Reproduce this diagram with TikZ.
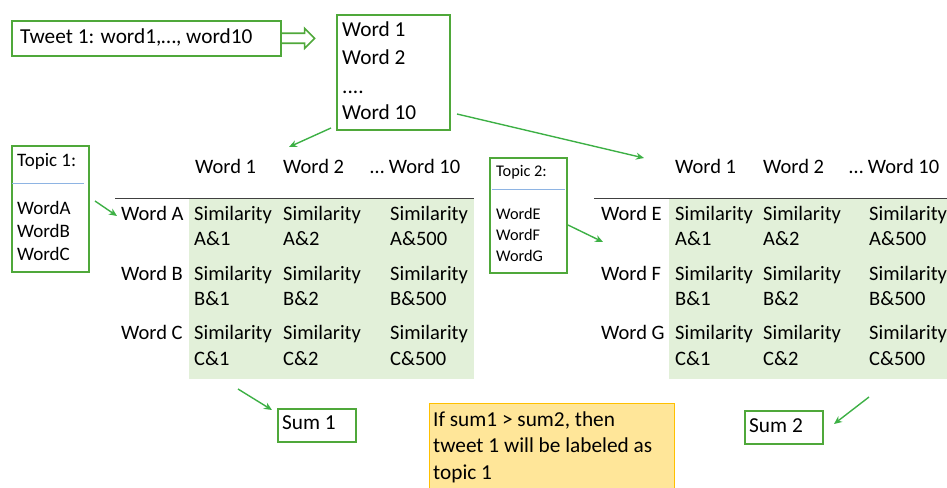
\documentclass[tikz,border=0pt]{standalone}
\usepackage{fontspec}
\setmainfont{Carlito}
\usetikzlibrary{arrows.meta,calc}
\definecolor{gbord}{HTML}{4FA83A}
\definecolor{garr}{HTML}{3DB045}
\definecolor{gfill}{HTML}{E2F0D9}
\definecolor{yfill}{HTML}{FFE699}
\definecolor{ybord}{HTML}{FFC000}
\definecolor{bline}{HTML}{8EB4E3}
\definecolor{hline}{HTML}{404040}
\begin{document}
\begin{tikzpicture}[x=1pt,y=-1pt,
  gbox/.style={draw=gbord, line width=1.6pt, inner sep=0pt, anchor=north west},
  tx/.style={anchor=base west, inner sep=0pt, font=\fontsize{20.5}{24}\selectfont},
  tb/.style={anchor=base west, inner sep=0pt, font=\fontsize{21.3}{25}\selectfont},
  tA/.style={anchor=base west, inner sep=0pt, font=\fontsize{19}{23}\selectfont},
  tB/.style={anchor=base west, inner sep=0pt, font=\fontsize{16.3}{20}\selectfont},
  garrow/.style={draw=garr, line width=1.4pt, -{Stealth[length=8pt,width=7pt]}}]
\useasboundingbox (0,0) rectangle (947,487);

% tweet box and word list
\node[gbox, minimum width=269pt, minimum height=35pt] (tw) at (11,20) {};
\node[tb] (twt) at (20,44) {Tweet 1: word1,…, word10};
\draw[gbord, line width=1.6pt] (tw.east) ++(0,-5) -- ++(23,0) -- ++(0,-5) -- ++(10,10) -- ++(-10,10) -- ++(0,-5) -- ++(-23,0);
\node[gbox, minimum width=113pt, minimum height=115pt] (wl) at (336,14) {};
\node[tb] (wl1) at (342,36.7) {Word 1};
\node[tb] (wl2) at (342,64.3) {Word 2};
\node[tb] (wl3) at (342,93.3) {....};
\node[tb] (wl4) at (342,119.3) {Word 10};

% topic 1 box
\node[gbox, minimum width=77pt, minimum height=126pt] (tp1) at (11,145) {};
\node[tA] (tp1h) at (17,166) {Topic 1:};
\draw[bline, line width=0.9pt] (12,183.5) -- (84,183.5);
\node[tA] (tp1a) at (17,214) {WordA};
\node[tA] (tp1b) at (17,237) {WordB};
\node[tA] (tp1c) at (17,260.5) {WordC};

% table 1
\fill[gfill] (189,199) rectangle (474,379);
\draw[hline, line width=1.8pt] (115,198.5) -- (474,198.5);
\node[tx] (h11) at (195,173.3) {Word 1};
\node[tx] (h12) at (283,173.3) {Word 2};
\node[tx] (h13) at (370,173.3) {… Word 10};
\node[tx] (ra) at (121,220) {Word A};
\node[tx] (rb) at (121,280) {Word B};
\node[tx] (rc) at (121,339.5) {Word C};
\node[tx] (a1) at (194,220) {Similarity};
\node[tx] (a1b) at (194,245) {A\&1};
\node[tx] (a2) at (283,220) {Similarity};
\node[tx] (a2b) at (283,245) {A\&2};
\node[tx] (a3) at (390,220) {Similarity};
\node[tx] (a3b) at (390,245) {A\&500};
\node[tx] (b1) at (194,280) {Similarity};
\node[tx] (b1b) at (194,305) {B\&1};
\node[tx] (b2) at (283,280) {Similarity};
\node[tx] (b2b) at (283,305) {B\&2};
\node[tx] (b3) at (390,280) {Similarity};
\node[tx] (b3b) at (390,305) {B\&500};
\node[tx] (c1) at (194,339.5) {Similarity};
\node[tx] (c1b) at (194,365) {C\&1};
\node[tx] (c2) at (283,339.5) {Similarity};
\node[tx] (c2b) at (283,365) {C\&2};
\node[tx] (c3) at (390,339.5) {Similarity};
\node[tx] (c3b) at (390,365) {C\&500};

% topic 2 box
\node[gbox, minimum width=77pt, minimum height=115pt] (tp2) at (489,157) {};
\node[tB] (tp2h) at (496,176.7) {Topic 2:};
\draw[bline, line width=0.9pt] (492,189) -- (565,189);
\node[tB] (tp2e) at (496,219.3) {WordE};
\node[tB] (tp2f) at (496,240.7) {WordF};
\node[tB] (tp2g) at (496,261.7) {WordG};

% table 2
\fill[gfill] (669,199) rectangle (947,379);
\draw[hline, line width=1.8pt] (594,198.5) -- (947,198.5);
\node[tx] (h21) at (675,173.3) {Word 1};
\node[tx] (h22) at (763,173.3) {Word 2};
\node[tx] (h23) at (849,173.3) {… Word 10};
\node[tx] (re) at (601,220) {Word E};
\node[tx] (rf) at (601,280) {Word F};
\node[tx] (rg) at (601,339.5) {Word G};
\node[tx] (e1) at (675,220) {Similarity};
\node[tx] (e1b) at (675,245) {A\&1};
\node[tx] (e2) at (763,220) {Similarity};
\node[tx] (e2b) at (763,245) {A\&2};
\node[tx] (e3) at (869,220) {Similarity};
\node[tx] (e3b) at (869,245) {A\&500};
\node[tx] (f1) at (675,280) {Similarity};
\node[tx] (f1b) at (675,305) {B\&1};
\node[tx] (f2) at (763,280) {Similarity};
\node[tx] (f2b) at (763,305) {B\&2};
\node[tx] (f3) at (869,280) {Similarity};
\node[tx] (f3b) at (869,305) {B\&500};
\node[tx] (g1) at (675,339.5) {Similarity};
\node[tx] (g1b) at (675,365) {C\&1};
\node[tx] (g2) at (763,339.5) {Similarity};
\node[tx] (g2b) at (763,365) {C\&2};
\node[tx] (g3) at (869,339.5) {Similarity};
\node[tx] (g3b) at (869,365) {C\&500};

% bottom
\node[gbox, minimum width=78pt, minimum height=33pt] (s1) at (277,408) {};
\node[tb] (s1t) at (282,429.3) {Sum 1};
\node[gbox, minimum width=78pt, minimum height=33pt] (s2) at (744,410) {};
\node[tb] (s2t) at (749,432.7) {Sum 2};
\node[draw=ybord, fill=yfill, line width=1.3pt, inner sep=0pt, anchor=north west, minimum width=245pt, minimum height=90pt] (yb) at (429,403) {};
\node[tb] (y1) at (433,426) {If sum1 > sum2, then};
\node[tb] (y2) at (433,452.7) {tweet 1 will be labeled as};
\node[tb] (y3) at (433,479.3) {topic 1};

% arrows
\coordinate (p1s) at (331,128);  \coordinate (p1e) at (289,147);
\coordinate (p2s) at (457,114);  \coordinate (p2e) at (644,158);
\coordinate (p3s) at (95,201);   \coordinate (p3e) at (117,216);
\coordinate (p4s) at (568,225);  \coordinate (p4e) at (603,242);
\coordinate (p5s) at (238,389);  \coordinate (p5e) at (272,410);
\coordinate (p6s) at (869,397);  \coordinate (p6e) at (834,424);
\draw[garrow] (p1s) -- (p1e);
\draw[garrow] (p2s) -- (p2e);
\draw[garrow] (p3s) -- (p3e);
\draw[garrow] (p4s) -- (p4e);
\draw[garrow] (p5s) -- (p5e);
\draw[garrow] (p6s) -- (p6e);
\end{tikzpicture}
\end{document}
